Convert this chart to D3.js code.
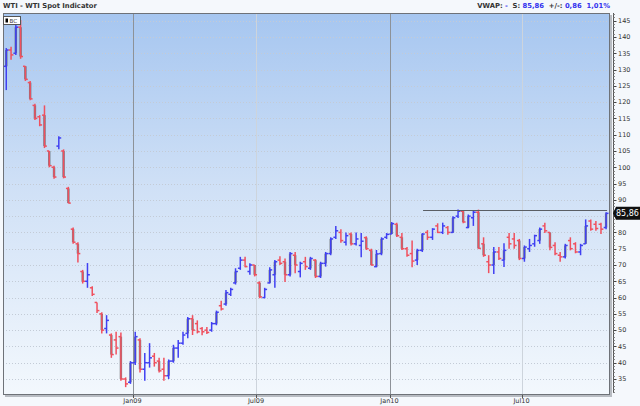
<!DOCTYPE html>
<html><head><meta charset="utf-8">
<script src="https://cdn.jsdelivr.net/npm/d3@7"></script>
<style>
body{margin:0;background:#f5f8fc;}
svg{display:block;font-family:"DejaVu Sans",Verdana,sans-serif;}
</style>
</head><body>
<svg id="c" width="640" height="406"></svg>
<script>
// ---- data (weekly bars) ----
const startDate = new Date(2008, 5, 30);
const opens  = [131,136,135,143,131,126,119,115.5,116,105,100,106.5,105,93.5,81,76.5,68,65,63,58.5,55,50.5,48.5,47,48,35,34,
  40,47,38,40,42,40.5,38,36,40.5,44.5,46,49,53.5,52,50.5,50,50,52,57.5,58,61,64.5,69,71.5,68,70,
  64.5,60,64.5,67,71.5,71,67,73,68,71,69,71.5,66.5,70.5,73.5,78.5,80,77,79.5,76.5,76,78.4,74.5,69.5,73.5,78.5,
  79.5,82.5,78.5,75,73.5,71.5,74.5,80,78.5,82,80,81.5,80,85,86.5,81.5,84.5,86.2,76.5,71,70,74,71.5,78.5,78,77.5,
  72,75,76.5,77.5,82,80,76,73,72.5,77.5,76.5,74,76.5,83.5,82.5,82.5,81.5];
const highs  = [136.6,137,145.5,145.2,131,126.5,119.5,116,119,105,100.5,109.5,105.5,94,81.5,77,68.5,70.6,63.5,58.5,55.5,54.6,49,49.5,49.3,35.5,40.5,
  49.5,47.5,43,46,43,41.5,41.5,41,45.5,47,49.5,54,54.6,53,51,51,52.5,56,59,62.3,63,69,72.5,72.5,70.5,70,
  65,63,69.3,71.5,72.7,72,74,74,71,72.5,72.5,71.8,71,74,78.5,82,81,80,80,80,79.8,78.8,75,74.6,78.5,79.8,
  83.2,83,79.8,75.5,77.5,75,79.8,80.7,81.3,82.8,83,82,85,87,86.8,85.5,86.8,87,78.5,73,75.5,75.5,76.7,79.8,79.8,78,
  76,78,79.3,81.5,83,80,77,74,76.5,78.5,77,76.5,84,84,83.5,83,86.2];
const lows   = [123.7,133,134.5,133.3,126.5,120.6,114.5,112.6,105.9,100,96.5,105.5,96.6,89,76.5,70.8,64.3,63,60.5,55.3,49,49,41.5,42.5,34.5,32.5,33.5,
  39.3,37,34.5,38.5,38.8,37,34.5,35,40,41.5,45.5,47.5,48.5,49,48.4,48.8,49.5,51.5,56,57.5,60.5,64,68.5,69.3,67,66.5,
  59.8,59.8,64.3,63,70,64.8,66.5,67.5,66.2,68.5,68.5,66,66,69.5,73,78,76.8,76,76,76,72.4,74.6,69.8,69.3,73,78,
  79.5,78.6,74.6,72.5,69.3,70,74,77.7,77.7,79.8,79.5,79.3,79.8,84.4,82.8,81.3,82,75,72.5,67.5,67.2,71.5,69.4,75,75,71.5,
  71,74,75.6,76.5,79.8,74.5,73,71,72,74.5,73.6,73,76.5,80.5,80.5,79.5,81];
const closes = [136,134.5,143,134,127,121,115,113,106.5,100.5,97,109,97,89,77,73.5,65,67,61,56,50,53,42.5,44.5,35,33.5,40,
  48,38,40,41.5,40,37.5,36,40.5,44.5,46,48.5,53.5,50,49.5,49.5,49.3,52,55.5,56.5,61.5,62.5,68,71.5,69.5,70,67,
  60.2,62.5,68.5,71,70.5,67,73.5,70,70.5,69.5,72,66.5,70.5,73.5,78,80.5,77.5,79,76.5,78,77.3,75,70,73.4,78,79.4,
  82.7,79,75,73,71.2,74.5,79.5,78.5,81,80,82,80,84.5,86.5,83.2,85,86.2,75.1,73,70,74,72,74.5,76.5,76,72,
  75.5,76,79,81,80.5,75.4,73.5,72.5,76,75,74,76,82,81,81.2,81,85.86];

const yTickValues = [35,40,45,50,55,60,65,70,75,80,85,90,95,100,105,110,115,120,125,130,135,140,145];
const xTickDates  = [new Date(2009,0,1), new Date(2009,6,1), new Date(2010,0,1), new Date(2010,6,1)];
const xTickLabels = ["Jan09","Jul09","Jan10","Jul10"];
const lastValue = 85.86;
const lastLabel = "85,86";
const resistanceLevel = 86.9;
const resistanceStart = new Date(2010,1,16);
const titleText = "WTI - WTI Spot Indicator";
const headerParts = [["VWAP: ","#333"],["-","#3333ee"],["  S: ","#333"],["85,86","#3333ee"],["  +/-: ","#333"],["0,86","#3333ee"],["  1,01%","#3333ee"]];

const dates = opens.map((_, i) => d3.timeDay.offset(startDate, 7 * i));
const bars = dates.map((d, i) => ({d, o: opens[i], h: highs[i], l: lows[i], c: closes[i]}));

// ---- layout ----
const L = 3, T = 13, R = 610, B = 395, AX = 613;
const svg = d3.select("#c");

const x = d3.scaleTime()
  .domain(xTickDates)
  .range([132.5, 256, 389.5, 521.5]);
const y = d3.scaleLinear().domain([35, 145]).range([379, 20.7]);

// background gradient
const defs = svg.append("defs");
const g = defs.append("linearGradient").attr("id","bg").attr("x1",0).attr("y1",0).attr("x2",0).attr("y2",1);
g.append("stop").attr("offset","0%").attr("stop-color","#a6c6f0");
g.append("stop").attr("offset","45%").attr("stop-color","#cfe0f6");
g.append("stop").attr("offset","100%").attr("stop-color","#f3f8fd");
defs.append("clipPath").attr("id","clip").append("rect").attr("x",L).attr("y",T).attr("width",R-L).attr("height",B-T);

// shadow
svg.append("rect").attr("x",L+2).attr("y",T+2).attr("width",R-L).attr("height",B-T).attr("fill","#b8bcc2");
svg.append("rect").attr("x",L).attr("y",T).attr("width",R-L).attr("height",B-T).attr("fill","url(#bg)");

// horizontal grid
svg.append("g").selectAll("line").data(yTickValues).join("line")
  .attr("x1",L).attr("x2",R).attr("y1",d=>Math.round(y(d))+0.5).attr("y2",d=>Math.round(y(d))+0.5)
  .attr("stroke","#c3cbd6").attr("stroke-dasharray","1,2").attr("stroke-width",1);

// vertical grid
svg.append("g").selectAll("line").data(xTickDates).join("line")
  .attr("x1",d=>Math.round(x(d))+0.5).attr("x2",d=>Math.round(x(d))+0.5).attr("y1",T).attr("y2",B)
  .attr("stroke",d=>d.getMonth()===0 ? "#8d9298" : "#cdd4dc").attr("stroke-width",1);

// bars
const plot = svg.append("g").attr("clip-path","url(#clip)");
const half = 2.4;
const colorOf = b => b.c >= b.o ? "#4040f2" : "#f0505e";
const bodies = bars.filter(b => Math.abs(b.c - b.o) >= 3);
plot.append("g").selectAll("rect").data(bodies).join("rect")
  .attr("x", b => x(b.d) - 1.2).attr("width", 2.4)
  .attr("y", b => y(Math.max(b.o,b.c))).attr("height", b => Math.abs(y(b.o)-y(b.c)))
  .attr("fill", "#2c2c2c").attr("opacity", 0.55);
const bg = plot.append("g").selectAll("g").data(bars).join("g").attr("stroke", colorOf).attr("stroke-width", 1.5);
bg.append("line").attr("x1",b=>x(b.d)).attr("x2",b=>x(b.d)).attr("y1",b=>y(b.h)).attr("y2",b=>y(b.l));
bg.append("line").attr("x1",b=>x(b.d)-half).attr("x2",b=>x(b.d)).attr("y1",b=>y(b.o)).attr("y2",b=>y(b.o));
bg.append("line").attr("x1",b=>x(b.d)).attr("x2",b=>x(b.d)+half).attr("y1",b=>y(b.c)).attr("y2",b=>y(b.c));

// resistance line
plot.append("line")
  .attr("x1", x(resistanceStart)).attr("x2", x(dates[dates.length-1]) + 1)
  .attr("y1", Math.round(y(resistanceLevel))+0.5).attr("y2", Math.round(y(resistanceLevel))+0.5)
  .attr("stroke","#5a5e64").attr("stroke-width",1);

// frame
svg.append("rect").attr("x",L+0.5).attr("y",T+0.5).attr("width",R-L-1).attr("height",B-T-1)
  .attr("fill","none").attr("stroke","#6e7278").attr("stroke-width",1);

// right axis
const ly = y(lastValue);
const ya = svg.append("g");
ya.append("line").attr("x1",AX+0.5).attr("x2",AX+0.5).attr("y1",T).attr("y2",B-2).attr("stroke","#555");
const minor = d3.range(31, 148, 1);
ya.append("g").selectAll("line").data(minor).join("line")
  .attr("x1",AX+0.5).attr("x2",AX+2).attr("y1",d=>Math.round(y(d))+0.5).attr("y2",d=>Math.round(y(d))+0.5)
  .attr("stroke","#888");
ya.append("g").selectAll("line").data(yTickValues).join("line")
  .attr("x1",AX+0.5).attr("x2",AX+3.5).attr("y1",d=>Math.round(y(d))+0.5).attr("y2",d=>Math.round(y(d))+0.5)
  .attr("stroke","#444");
ya.append("g").selectAll("text").data(yTickValues.filter(d => Math.abs(y(d) - ly) > 9)).join("text")
  .attr("x",AX+5).attr("y",d=>y(d)+2.3).attr("font-size","6.5px").attr("fill","#333").text(d=>d);

// x axis ticks & labels
const xa = svg.append("g");
xa.selectAll("line").data(xTickDates).join("line")
  .attr("x1",d=>Math.round(x(d))+0.5).attr("x2",d=>Math.round(x(d))+0.5).attr("y1",B).attr("y2",B+3)
  .attr("stroke","#555");
xa.selectAll("text").data(xTickDates).join("text")
  .attr("x",d=>x(d)).attr("y",B+8).attr("text-anchor","middle").attr("font-size","6.5px").attr("fill","#333")
  .text((d,i)=>xTickLabels[i]);

// last value tag
svg.append("path").attr("d", `M${AX},${ly} L${AX+3},${ly-6.5} L640,${ly-6.5} L640,${ly+6.5} L${AX+3},${ly+6.5} Z`).attr("fill","#111");
svg.append("text").attr("x",616).attr("y",ly+3).attr("font-size","8px").attr("fill","#fff").text(lastLabel);

// title / header
svg.append("text").attr("x",3).attr("y",8).attr("font-size","6.8px").attr("font-weight","bold").attr("fill","#333").text(titleText);
const ht = svg.append("text").attr("x",610).attr("y",8).attr("text-anchor","end").attr("font-size","6.8px").attr("font-weight","bold").attr("xml:space","preserve");
headerParts.forEach(p => ht.append("tspan").attr("fill",p[1]).text(p[0]));

// legend
svg.append("rect").attr("x",3.5).attr("y",16.5).attr("width",17).attr("height",8).attr("fill","#fff").attr("stroke","#555");
svg.append("rect").attr("x",5.5).attr("y",18.5).attr("width",2.5).attr("height",4).attr("fill","#000");
svg.append("text").attr("x",9.5).attr("y",23).attr("font-size","5.5px").attr("fill","#333").text("BC");
</script>
</body></html>
